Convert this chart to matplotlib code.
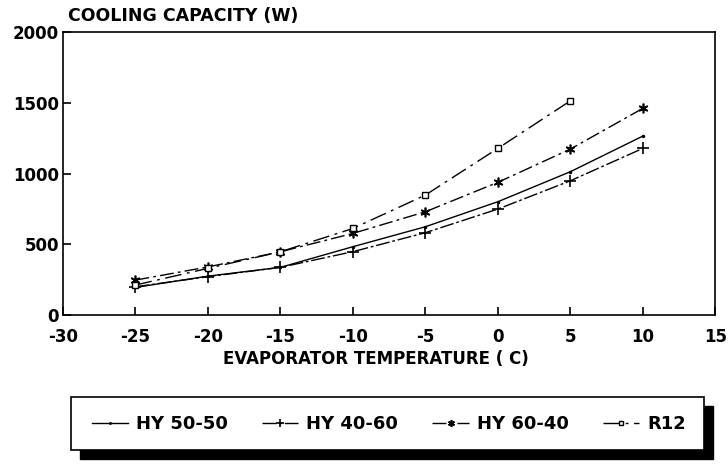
import matplotlib
matplotlib.use("Agg")
import matplotlib.pyplot as plt
from matplotlib.patches import Rectangle

plt.rcParams['font.family'] = ['DejaVu Sans']
plt.rcParams['font.weight'] = 'bold'
plt.rcParams['axes.unicode_minus'] = False

temps = [-25, -20, -15, -10, -5, 0, 5, 10]
temps_r12 = [-25, -20, -15, -10, -5, 0, 5]

hy_50_50 = [195, 275, 337, 483, 624, 801, 1013, 1265]
hy_40_60 = [200, 271, 337, 448, 582, 749, 949, 1178]
hy_60_40 = [247, 340, 447, 577, 730, 938, 1173, 1461]
r12 = [212, 330, 447, 612, 848, 1178, 1514]

fig = plt.figure(figsize=(7.28, 4.66), dpi=100)
ax = fig.add_axes([0.0865, 0.324, 0.896, 0.607])

ax.plot(temps, hy_50_50, color='black', lw=1.0, marker='.', ms=3, label='HY 50-50')
ax.plot(temps, hy_40_60, color='black', lw=1.0, marker='+', ms=8, mew=1.2,
        dashes=(10, 2, 2, 2), label='HY 40-60')
ax.plot(temps, hy_60_40, color='black', lw=1.0, marker=(6, 2, 0), ms=7, mew=1.2,
        dashes=(10, 3, 2, 3), label='HY 60-40')
ax.plot(temps_r12, r12, color='black', lw=1.0, marker='s', ms=5, mfc='white', mew=1.0,
        dashes=(12, 4, 2, 4), label='R12')

ax.set_xlim(-30, 15)
ax.set_ylim(0, 2000)
ax.set_xticks(range(-30, 16, 5))
ax.set_yticks([0, 500, 1000, 1500, 2000])
ax.tick_params(labelsize=12, width=1.2, length=6, direction='in')
ax.tick_params(axis='x', pad=9)
ax.tick_params(axis='y', pad=3)
for s in ax.spines.values():
    s.set_linewidth(1.2)

ax.set_xlabel('EVAPORATOR TEMPERATURE ( C)', fontsize=12, fontweight='bold')
ax.xaxis.set_label_coords(0.48, -0.125)
fig.text(0.093, 0.955, 'COOLING CAPACITY (W)', fontsize=12.5, fontweight='bold')

# legend box with heavy shadow
fig.patches.append(Rectangle((0.110, 0.015), 0.870, 0.114, transform=fig.transFigure,
                             facecolor='black', edgecolor='black', zorder=0))
fig.patches.append(Rectangle((0.0975, 0.034), 0.870, 0.114, transform=fig.transFigure,
                             facecolor='white', edgecolor='black', lw=1.2, zorder=1))
fig.legend(loc='center', bbox_to_anchor=(0.534, 0.090), ncol=4, frameon=False,
           fontsize=13, handlelength=2.0, columnspacing=1.9, handletextpad=0.45,
           markerscale=0.7)

fig.savefig('out.png', dpi=100)
